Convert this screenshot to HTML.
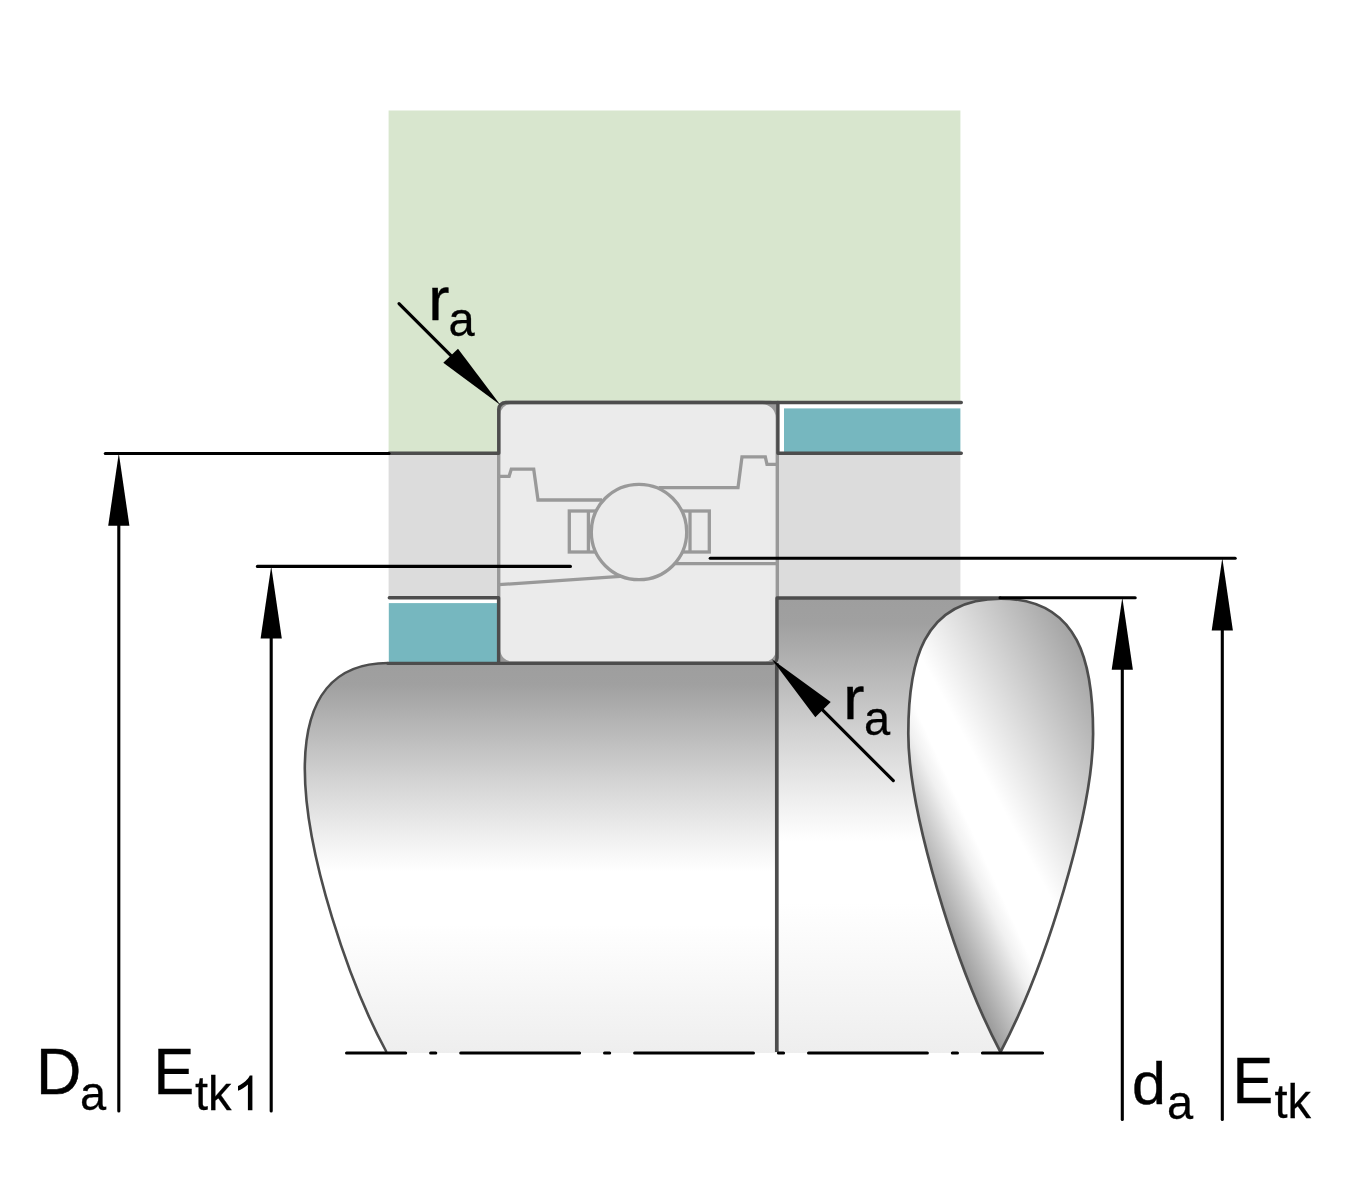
<!DOCTYPE html>
<html><head><meta charset="utf-8"><title>Bearing</title>
<style>
html,body{margin:0;padding:0;background:#fff;}
svg{display:block;will-change:transform;}
text{font-family:"Liberation Sans",sans-serif;fill:#000;}
</style></head>
<body>
<svg width="1350" height="1200" viewBox="0 0 1350 1200">
<defs>
<linearGradient id="gL" gradientUnits="userSpaceOnUse" x1="0" y1="663" x2="0" y2="1053">
<stop offset="0" stop-color="#9e9e9e"/>
<stop offset="0.055" stop-color="#a0a0a0"/>
<stop offset="0.3" stop-color="#d3d3d3"/>
<stop offset="0.45" stop-color="#f0f0f0"/>
<stop offset="0.535" stop-color="#ffffff"/>
<stop offset="0.67" stop-color="#ffffff"/>
<stop offset="1" stop-color="#eeeeee"/>
</linearGradient>
<linearGradient id="gR" gradientUnits="userSpaceOnUse" x1="0" y1="598" x2="0" y2="1053">
<stop offset="0" stop-color="#9e9e9e"/>
<stop offset="0.055" stop-color="#a0a0a0"/>
<stop offset="0.3" stop-color="#d3d3d3"/>
<stop offset="0.45" stop-color="#f0f0f0"/>
<stop offset="0.535" stop-color="#ffffff"/>
<stop offset="0.67" stop-color="#ffffff"/>
<stop offset="1" stop-color="#eeeeee"/>
</linearGradient>
<linearGradient id="gT" gradientUnits="userSpaceOnUse" x1="1000" y1="1052" x2="1064.5" y2="1022.4">
<stop offset="0" stop-color="#9a9a9a"/>
<stop offset="0.43" stop-color="#cccccc"/>
<stop offset="0.73" stop-color="#f0f0f0"/>
<stop offset="0.94" stop-color="#ffffff"/>
</linearGradient>
<linearGradient id="gT2" gradientUnits="userSpaceOnUse" x1="1103.3" y1="996.4" x2="1244.2" y2="920.6">
<stop offset="0" stop-color="#000" stop-opacity="0"/>
<stop offset="1" stop-color="#000" stop-opacity="0.396"/>
</linearGradient>
</defs>
<!-- housing green -->
<path d="M388.6 110.4H960.4V402.6H499V453.3H388.6Z" fill="#d8e6ce"/>
<!-- light grey -->
<rect x="388.6" y="453.3" width="571.8" height="144.5" fill="#dcdcdc"/>
<!-- teal -->
<rect x="784" y="408.4" width="176.4" height="45" fill="#76b7bf"/>
<rect x="388.8" y="603.1" width="109" height="60" fill="#76b7bf"/>
<!-- shaft -->
<path d="M388 663H777V1053H387C350.2 985.4 304.8 854.2 304.8 768.8C304.8 695.9 335.4 663 388 663Z" fill="url(#gL)"/>
<rect x="777" y="598" width="223" height="455" fill="url(#gR)"/>
<path d="M386.5 1052C350.2 985.4 304.8 854.2 304.8 768.8C304.8 695.9 335.4 663 388 663" fill="none" stroke="#4d4d4d" stroke-width="2.6"/>
<!-- teardrop -->
<path d="M1000.7 598.6C1080.2 598.6 1093.1 664.5 1093.1 733.7C1093.1 811.1 1046.2 966 1000.5 1052C955 966 908.3 811.1 908.3 733.7C908.3 664.5 921.2 598.6 1000.7 598.6Z" fill="url(#gT)"/>
<path d="M1000.7 598.6C1080.2 598.6 1093.1 664.5 1093.1 733.7C1093.1 811.1 1046.2 966 1000.5 1052C955 966 908.3 811.1 908.3 733.7C908.3 664.5 921.2 598.6 1000.7 598.6Z" fill="url(#gT2)" stroke="#4d4d4d" stroke-width="2.7" stroke-linejoin="round"/>
<!-- bearing -->
<rect x="497" y="400.8" width="282" height="264" rx="8.5" fill="#999"/>
<path d="M510.7 402.5H762.3A15 15 0 0 1 777.3 417.5V651A12 12 0 0 1 765.3 663H511.7A13 13 0 0 1 498.7 650V414.5A12 12 0 0 1 510.7 402.5Z" fill="#ebebeb" stroke="#999" stroke-width="3.4"/>
<g fill="none" stroke="#999" stroke-width="3.3" stroke-linejoin="miter">
<path d="M498.7 476.3H509.1L511.3 469.1H533.7L538 500H602"/>
<path d="M658.7 487.7H738L742 456.9H765.3L767 464.3H777.3"/>
<rect x="569.3" y="511" width="30" height="41"/>
<path d="M588.4 511V552"/>
<rect x="679.3" y="511" width="30" height="41"/>
<path d="M690 511V552"/>
<path d="M498.7 584.7L624 576.1"/>
<path d="M675 563.7H777.3"/>
<circle cx="639" cy="532" r="47.7" fill="#ebebeb"/>
</g>
<!-- dark lines -->
<g fill="none" stroke="#4d4d4d" stroke-width="3.4" stroke-linecap="round" stroke-linejoin="round">
<path d="M389 453.3H498.8V409.5A7 7 0 0 1 505.8 402.5H961.3"/>
<path d="M777.9 402.5V453.2H961.3"/>
<path d="M389.3 597.8H498.6V663.4"/>
<path d="M388 663.4H771.5A5.5 5.5 0 0 0 777 658V598H1000"/>
<path d="M776.8 663V1052" stroke-width="3.7" stroke-linecap="butt"/>
</g>
<!-- black dimension lines -->
<g fill="none" stroke="#000" stroke-width="3.1" stroke-linecap="round">
<path d="M105.3 453.5H389"/>
<path d="M118.8 520V1111"/>
<path d="M257.4 566.4H570.4"/>
<path d="M271.2 630V1111"/>
<path d="M710.2 558.3H1235.2"/>
<path d="M1222.3 620V1119.5"/>
<path d="M1000 597.8H1135.2"/>
<path d="M1122.3 660V1119.5"/>
<path d="M399 303.7L452 356.7"/>
<path d="M893.3 780.7L822 709.4"/>
<path d="M346.5 1053H1042.6" stroke-width="3" stroke-dasharray="118.9 24.9 5.2 24.9" stroke-dashoffset="59.7"/>
</g>
<g fill="#000">
<path d="M118.8 453.3L129.4 525.7H108.2Z"/>
<path d="M271.2 566.2L281.8 638.6H260.6Z"/>
<path d="M1222.3 558.1L1232.9 630.4H1211.7Z"/>
<path d="M1122.3 597.6L1132.9 669.8H1111.7Z"/>
<path d="M500.4 405.1L458 348.7L443.3 362.7Z"/>
<path d="M771.6 658.9L830.7 702L815.3 717.3Z"/>
</g>
<!-- text -->
<g font-size="61" stroke="#000" stroke-width="0.4">
<text transform="translate(36 1094.2) scale(1.03 1.05)">D</text>
<text transform="translate(153.4 1094.2) scale(1 1.05)">E</text>
<text transform="translate(1132 1103.6) scale(1 0.985)">d</text>
<text transform="translate(1232.5 1102.5) scale(1 1.05)">E</text>
<text transform="translate(428.3 319.8) scale(1.04 1)">r</text>
<text transform="translate(843.3 718.9) scale(1.04 1)">r</text>
</g>
<g font-size="47" stroke="#000" stroke-width="0.25">
<text transform="translate(80 1110.2) scale(1 1.03)">a</text>
<text transform="translate(195 1110.2) scale(1 1.025)">tk</text>
<text transform="translate(1167 1118.7) scale(1 1.04)">a</text>
<text transform="translate(1274.5 1117.8) scale(1 1.04)">tk</text>
<text transform="translate(448.5 335.5) scale(1 1.04)">a</text>
<text transform="translate(864 734.5) scale(1 1.04)">a</text>
</g>
<path d="M247.9 1110.2V1084.4C244.9 1087.2 241.2 1089.5 238 1090.7V1086C243.7 1083.3 248 1079.4 249.8 1075.5H252.4V1110.2Z" fill="#000"/>
</svg>
</body></html>
